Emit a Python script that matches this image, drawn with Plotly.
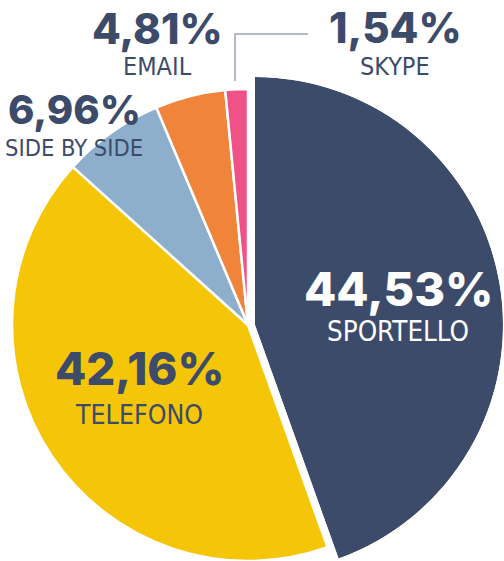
import math
import plotly.graph_objects as go

# ---------------- data ----------------
labels = ["SPORTELLO", "TELEFONO", "SIDE BY SIDE", "EMAIL", "SKYPE"]
values = [44.53, 42.16, 6.96, 4.81, 1.54]
colors = ["#3D4B6B", "#F5C508", "#8EAFCB", "#F0843A", "#EF5287"]
pct_text = [f"{v:.2f}".replace(".", ",") + "%" for v in values]

# ---------------- geometry (px) ----------------
W, H = 504, 561
PCX, PCY, PR = 248, 325, 236     # main pie
SCX, SCY, SR = 255, 325, 248     # exploded, enlarged first slice

NAVY = "#3D4B6B"
BOLD = "Inter"
COND = "DejaVu Sans Condensed, Liberation Sans Narrow, DejaVu Sans"

def px(x):
    return x / W

def py(y):
    return 1 - y / H

fig = go.Figure()

# main pie (first slice transparent; drawn separately, larger)
fig.add_trace(go.Pie(
    labels=labels, values=values, sort=False, direction="clockwise", rotation=0,
    marker=dict(colors=["rgba(0,0,0,0)"] + colors[1:],
                line=dict(color="white", width=[0] + [2.5] * (len(values) - 1))),
    textinfo="none", hoverinfo="label+value", showlegend=False,
    domain=dict(x=[px(PCX - PR), px(PCX + PR)], y=[py(PCY + PR), py(PCY - PR)]),
))

# first slice as a polar bar, exploded & enlarged
total = sum(values)
span = values[0] / total * 360
a_start = 90.0
a_end = 90.0 - span
sector = [a_end, a_start]
ymin = min(0.0, math.sin(math.radians(a_end)))

fig.add_trace(go.Barpolar(
    r=[1], theta=[span / 2], width=[span], name=labels[0],
    marker=dict(color=colors[0], line=dict(width=0)),
    showlegend=False, hoverinfo="name",
))

fig.update_layout(
    width=W, height=H,
    margin=dict(l=0, r=0, t=0, b=0),
    paper_bgcolor="white", plot_bgcolor="white",
    showlegend=False,
    polar=dict(
        domain=dict(x=[px(SCX), px(SCX + SR)], y=[py(SCY - SR * ymin), py(SCY - SR)]),
        sector=sector, bgcolor="rgba(0,0,0,0)", hole=0, bargap=0,
        radialaxis=dict(visible=False, range=[0, 1]),
        angularaxis=dict(visible=False, rotation=90, direction="clockwise"),
    ),
)

# ---------------- labels ----------------
# (x center, pct y center, pct size, label y center, label size, text color)
label_pos = [
    (398, 288.5, 47, 331, 27.5, "white"),
    (139, 368, 45.5, 414, 26.5, NAVY),
    (74, 110, 40, 147.5, 23.5, NAVY),
    (157, 28, 42, 66.5, 25, NAVY),
    (395, 27.5, 42, 66, 25, NAVY),
]
for i, (x, yp, sp, yl, sl, col) in enumerate(label_pos):
    fig.add_annotation(x=px(x), y=py(yp), xref="paper", yref="paper",
                       text=pct_text[i], showarrow=False, xanchor="center", yanchor="middle",
                       font=dict(family=BOLD, size=sp, color=col, weight=800))
    fig.add_annotation(x=px(x), y=py(yl), xref="paper", yref="paper",
                       text=labels[i], showarrow=False, xanchor="center", yanchor="middle",
                       font=dict(family=COND, size=sl, color=col))

# leader line for the smallest slice
fig.add_shape(type="path", xref="paper", yref="paper",
              path=f"M {px(235)},{py(81)} L {px(235)},{py(34)} L {px(308)},{py(34)}",
              line=dict(color="#9AA3B6", width=1.5))

fig.write_html("out.html",
               config={"displayModeBar": False},
               post_script="document.body.style.margin='0';document.body.style.overflow='hidden';")
